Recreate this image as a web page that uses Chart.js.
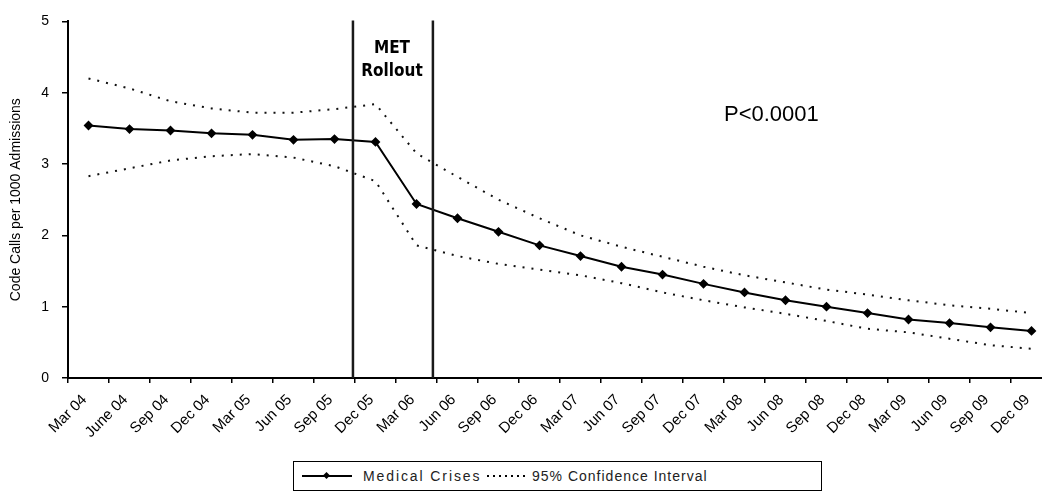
<!DOCTYPE html>
<html>
<head>
<meta charset="utf-8">
<script src="https://cdn.jsdelivr.net/npm/chart.js@4/dist/chart.umd.min.js"></script>
<style>
  html, body { margin: 0; padding: 0; background: #fff; overflow: hidden; width: 1042px; height: 495px; }
  #wrap { position: absolute; left: 0; top: 0; width: 1060px; height: 495px; }
  .ov { position: absolute; color: #000; font-family: "Liberation Sans", Arial, sans-serif; white-space: nowrap; }
  #met { left: 352px; top: 36px; width: 80px; text-align: center; font-family: "Liberation Sans Narrow", "DejaVu Sans Condensed", "Liberation Sans", sans-serif; font-weight: bold; font-size: 17px; line-height: 23px; }
  #pval { left: 724px; top: 101px; font-size: 22px; line-height: 26px; }
  #legend { position: absolute; left: 293px; top: 461px; width: 527px; height: 28px; border: 1px solid #000; background: #fff; }
  #legend .txt { position: absolute; top: 6px; font-family: "Liberation Sans", Arial, sans-serif; font-size: 14px; line-height: 16px; letter-spacing: 1px; color: #222; }
  .solid { position: absolute; left: 8px; top: 13px; width: 50px; height: 0; border-top: 2px solid #000; }
  .diam { position: absolute; left: 30px; top: 11px; width: 5px; height: 5px; background: #000; transform: rotate(45deg); }
  .dots { position: absolute; left: 193px; top: 13px; width: 42px; height: 2px;
          background-image: linear-gradient(90deg, #000 2px, transparent 2px); background-size: 6px 2px; background-repeat: repeat-x; }
</style>
</head>
<body>
<div id="wrap"><canvas id="c" width="1060" height="495"></canvas></div>
<div id="met" class="ov">MET<br>Rollout</div>
<div id="pval" class="ov">P&lt;0.0001</div>
<div id="legend">
  <div class="solid"></div><div class="diam"></div>
  <div class="txt" style="left:69px; letter-spacing:1.9px">Medical Crises</div>
  <div class="dots"></div>
  <div class="txt" style="left:238px">95% Confidence Interval</div>
</div>
<script>
const categories = ['Mar 04','June 04','Sep 04','Dec 04','Mar 05','Jun 05','Sep 05','Dec 05',
  'Mar 06','Jun 06','Sep 06','Dec 06','Mar 07','Jun 07','Sep 07','Dec 07',
  'Mar 08','Jun 08','Sep 08','Dec 08','Mar 09','Jun 09','Sep 09','Dec 09'];
const medicalCrises = [3.54,3.49,3.47,3.43,3.41,3.34,3.35,3.31,2.44,2.24,2.05,1.86,1.71,1.56,1.45,1.32,1.20,1.09,1.00,0.91,0.82,0.77,0.71,0.66];
const upperCI = [4.20,4.06,3.88,3.78,3.72,3.72,3.77,3.84,3.15,2.82,2.50,2.24,2.00,1.84,1.70,1.56,1.44,1.34,1.24,1.17,1.09,1.02,0.97,0.91];
const lowerCI = [2.83,2.94,3.05,3.11,3.14,3.09,2.97,2.76,1.86,1.71,1.60,1.52,1.44,1.33,1.20,1.09,0.99,0.90,0.80,0.69,0.64,0.55,0.46,0.41];
const yTickValues = [0,1,2,3,4,5];
const rolloutMarkers = [6.45, 8.4];

const FONT = '"Liberation Sans", Arial, sans-serif';

const rolloutPlugin = {
  id: 'rollout',
  afterDatasetsDraw(chart) {
    const {ctx, chartArea, scales: {x}} = chart;
    ctx.save();
    ctx.strokeStyle = '#1a1a1a';
    ctx.lineWidth = 2.5;
    rolloutMarkers.forEach(v => {
      const px = x.getPixelForValue(v);
      ctx.beginPath();
      ctx.moveTo(px, chartArea.top - 1);
      ctx.lineTo(px, chartArea.bottom);
      ctx.stroke();
    });
    ctx.restore();
  }
};

const ciStyle = {
  borderColor: '#111', borderWidth: 2, borderDash: [2, 7], pointRadius: 0, pointHoverRadius: 0,
  fill: false, tension: 0
};

new Chart(document.getElementById('c'), {
  type: 'line',
  data: {
    labels: categories,
    datasets: [
      { label: 'Medical Crises', data: medicalCrises, borderColor: '#000', borderWidth: 2,
        pointStyle: 'rectRot', pointRadius: 3.5, pointBackgroundColor: '#000', pointBorderColor: '#000',
        fill: false, tension: 0 },
      Object.assign({ label: '95% Confidence Interval', data: upperCI }, ciStyle),
      Object.assign({ label: '95% Confidence Interval (lower)', data: lowerCI }, ciStyle)
    ]
  },
  options: {
    responsive: false,
    animation: false,
    events: [],
    layout: { padding: { top: 16, bottom: 47, left: 0, right: 8 } },
    plugins: { legend: { display: false }, tooltip: { enabled: false } },
    scales: {
      x: {
        type: 'category',
        offset: true,
        grid: { display: true, drawOnChartArea: false, drawTicks: true, tickLength: 5, offset: true, color: '#000', lineWidth: 1.5 },
        border: { display: true, color: '#000', width: 2 },
        ticks: { autoSkip: false, maxRotation: 45, minRotation: 45, color: '#000', padding: 8, labelOffset: -4,
                 font: { family: FONT, size: 15 } },
        afterFit(s) { s.height = 70; }
      },
      y: {
        min: 0, max: 5,
        afterBuildTicks(s) { s.ticks = yTickValues.map(v => ({ value: v })); },
        grid: { display: true, drawOnChartArea: false, drawTicks: true, tickLength: 6, color: '#000', lineWidth: 1.5 },
        border: { display: true, color: '#000', width: 2 },
        ticks: { color: '#000', padding: 13, font: { family: FONT, size: 14 } },
        title: { display: true, text: 'Code Calls per 1000 Admissions', color: '#000',
                 font: { family: FONT, size: 14 }, padding: { top: 8, bottom: 0 } },
        afterFit(s) { s.width = 68; }
      }
    }
  },
  plugins: [rolloutPlugin]
});
</script>
</body>
</html>
